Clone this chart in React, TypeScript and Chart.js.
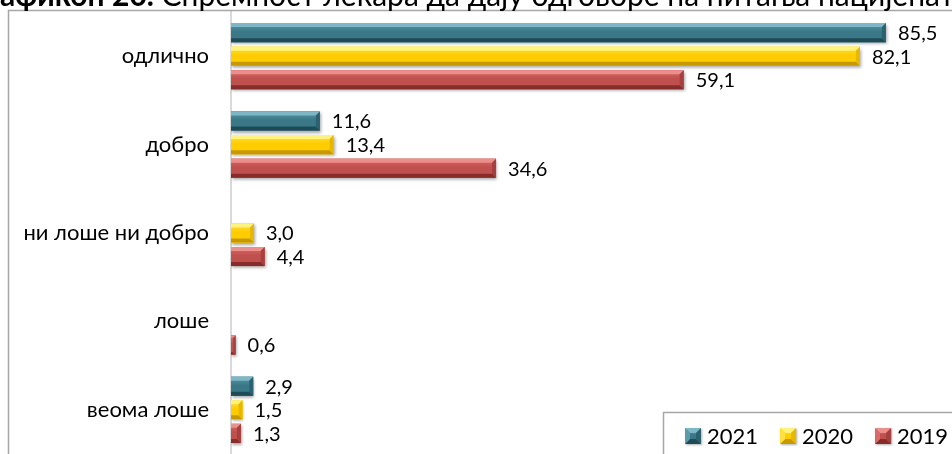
import React, { useEffect, useRef } from "react";
import { Chart, registerables } from "chart.js";

Chart.register(...registerables);

const categories = ["одлично", "добро", "ни лоше ни добро", "лоше", "веома лоше"];
const seriesLabels = ["2021", "2020", "2019"];
const values2021 = [85.5, 11.6, null, null, 2.9];
const values2020 = [82.1, 13.4, 3.0, null, 1.5];
const values2019 = [59.1, 34.6, 4.4, 0.6, 1.3];
const titleBold = "Графикон 20.";
const titleRest = " Спремност лекара да дају одговоре на питања пацијената";

const FONT = "Lato, 'Open Sans', sans-serif";

const palettes = [
  { face: "#3a7888", top: "#7db6c4", bottom: "#1f4b56", right: "#2b6272", light: "#5c9aa9" },
  { face: "#ffcc00", top: "#fff27d", bottom: "#c79900", right: "#e8b800", light: "#ffe040" },
  { face: "#c0504d", top: "#ec8e8b", bottom: "#862c2a", right: "#a5403e", light: "#d86a67" },
];

function bevelRect(ctx: CanvasRenderingContext2D, L: number, T: number, R: number, B: number, p: any, b0: number, leftBevel: boolean) {
  const w = R - L;
  const h = B - T;
  if (w <= 0 || h <= 0) return;
  const b = Math.min(b0, w / 2, h / 2);
  const lb = leftBevel ? b : 0;
  const g = ctx.createLinearGradient(0, T, 0, B);
  g.addColorStop(0, p.light);
  g.addColorStop(0.45, p.face);
  g.addColorStop(1, p.face);
  ctx.fillStyle = g;
  ctx.fillRect(L, T, w, h);
  ctx.fillStyle = p.top;
  ctx.beginPath();
  ctx.moveTo(L, T);
  ctx.lineTo(R, T);
  ctx.lineTo(R - b, T + b);
  ctx.lineTo(L + lb, T + b);
  ctx.closePath();
  ctx.fill();
  ctx.fillStyle = p.bottom;
  ctx.beginPath();
  ctx.moveTo(L, B);
  ctx.lineTo(R, B);
  ctx.lineTo(R - b, B - b);
  ctx.lineTo(L + lb, B - b);
  ctx.closePath();
  ctx.fill();
  ctx.fillStyle = p.right;
  ctx.beginPath();
  ctx.moveTo(R, T);
  ctx.lineTo(R, B);
  ctx.lineTo(R - b, B - b);
  ctx.lineTo(R - b, T + b);
  ctx.closePath();
  ctx.fill();
  if (leftBevel) {
    ctx.fillStyle = p.light;
    ctx.beginPath();
    ctx.moveTo(L, T);
    ctx.lineTo(L, B);
    ctx.lineTo(L + b, B - b);
    ctx.lineTo(L + b, T + b);
    ctx.closePath();
    ctx.fill();
  }
}

const decorPlugin = {
  id: "decor",
  beforeDatasetsDraw(chart: any) {
    const ctx = chart.ctx;
    ctx.save();
    ctx.shadowColor = "rgba(0,0,0,0.35)";
    ctx.shadowBlur = 3;
    ctx.shadowOffsetX = 1;
    ctx.shadowOffsetY = 2;
  },
  afterDatasetsDraw(chart: any) {
    const ctx = chart.ctx;
    ctx.restore();
    chart.data.datasets.forEach((ds: any, di: number) => {
      const meta = chart.getDatasetMeta(di);
      meta.data.forEach((el: any, i: number) => {
        const v = ds.data[i];
        if (v === null || v === undefined) return;
        const { x, y, base, height } = el.getProps(["x", "y", "base", "height"], true);
        bevelRect(ctx, base, y - height / 2, x, y + height / 2, palettes[di], 4, false);
        ctx.save();
        ctx.fillStyle = "#000";
        ctx.font = `20px ${FONT}`;
        ctx.textAlign = "left";
        ctx.textBaseline = "middle";
        ctx.fillText(String(v.toFixed(1)).replace(".", ","), x + 12, y + 1);
        ctx.restore();
      });
    });
  },
  afterDraw(chart: any) {
    const ctx = chart.ctx;
    ctx.save();
    ctx.strokeStyle = "#a6a6a6";
    ctx.lineWidth = 1.5;
    ctx.strokeRect(8.5, 10.5, 3000, 3000);
    ctx.fillStyle = "#000";
    ctx.textBaseline = "alphabetic";
    ctx.textAlign = "left";
    ctx.font = `bold 30px ${FONT}`;
    const cut = ctx.measureText("Гр").width;
    const bw = ctx.measureText(titleBold).width;
    const tx = -cut;
    ctx.fillText(titleBold, tx, 6);
    ctx.font = `30px ${FONT}`;
    ctx.fillText(titleRest, tx + bw, 6);
    ctx.fillStyle = "#fff";
    ctx.fillRect(663, 412, 400, 100);
    ctx.strokeStyle = "#a6a6a6";
    ctx.lineWidth = 1.5;
    ctx.strokeRect(663.5, 412.5, 400, 100);
    ctx.font = `22px ${FONT}`;
    ctx.textBaseline = "middle";
    let lx = 685;
    seriesLabels.forEach((lab, i) => {
      ctx.save();
      ctx.shadowColor = "rgba(0,0,0,0.3)";
      ctx.shadowBlur = 2;
      ctx.shadowOffsetX = 1;
      ctx.shadowOffsetY = 1;
      ctx.fillStyle = palettes[i].face;
      ctx.fillRect(lx, 428, 16, 16);
      ctx.restore();
      bevelRect(ctx, lx, 428, lx + 16, 444, palettes[i], 5, true);
      ctx.fillStyle = "#000";
      ctx.fillText(lab, lx + 22, 437);
      lx += 22 + ctx.measureText(lab).width + 22;
    });
    ctx.restore();
  },
};

export default function App() {
  const ref = useRef<HTMLCanvasElement | null>(null);
  useEffect(() => {
    document.body.style.margin = "0";
    document.body.style.overflow = "hidden";
    let chart: Chart | null = null;
    let cancelled = false;
    const make = () => {
      if (cancelled || !ref.current) return;
      chart = new Chart(ref.current, {
        type: "bar",
        data: {
          labels: categories,
          datasets: [values2021, values2020, values2019].map((d, i) => ({
            label: seriesLabels[i],
            data: d as any,
            backgroundColor: palettes[i].face,
            borderWidth: 0,
            barPercentage: 0.81,
            categoryPercentage: 0.8,
          })),
        },
        options: {
          indexAxis: "y",
          animation: false,
          responsive: false,
          devicePixelRatio: 1,
          layout: { padding: { top: 12, right: 13, left: 0, bottom: 0 } },
          scales: {
            x: { display: false, min: 0, max: 100 },
            y: {
              grid: { display: false, drawTicks: false },
              border: { display: true, color: "#d9d9d9", width: 2 },
              ticks: { color: "#000", font: { family: FONT, size: 22 }, padding: 22 },
              afterFit(s: any) {
                s.width = 231;
                s.paddingTop = 0;
                s.paddingBottom = 0;
              },
            },
          },
          plugins: { legend: { display: false }, title: { display: false }, tooltip: { enabled: false } },
        } as any,
        plugins: [decorPlugin],
      });
    };
    const fl = (document as any).fonts;
    if (fl && fl.load) {
      Promise.all([fl.load(`22px Lato`), fl.load(`bold 30px Lato`)]).then(make, make);
    } else make();
    return () => {
      cancelled = true;
      if (chart) chart.destroy();
    };
  }, []);
  return (
    <div style={{ position: "fixed", left: 0, top: 0, width: 952, height: 454, overflow: "hidden", background: "#fff" }}>
      <canvas ref={ref} width={1010} height={454} style={{ display: "block", width: 1010, height: 454 }} />
    </div>
  );
}
